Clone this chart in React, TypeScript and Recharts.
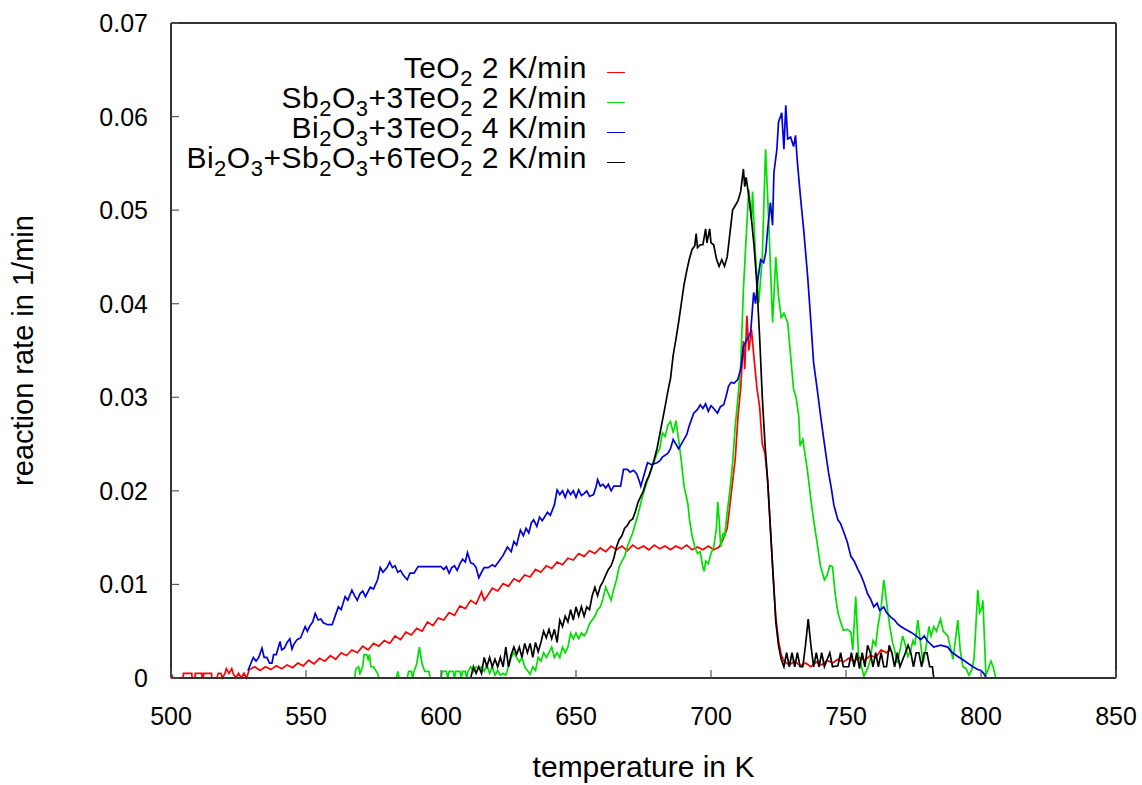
import { LineChart, Line, XAxis, YAxis, Legend } from 'recharts';

// [temperature in K, reaction rate in 1/min]
const teo2: [number, number][] = [
  [500, 0.0005], [500.8, 0], [504.5, 0], [504.6, 0.0005], [507.7, 0.0005], [507.8, 0], [508.9, 0],
  [509, 0.0005], [511.4, 0.0005], [511.5, 0], [512, 0], [512.1, 0.0005], [515, 0.0005], [515.1, 0],
  [517, 0], [517.5, 0.0005], [518.5, 0.0005], [519, 0], [520, 0.0005], [520.5, 0.001], [521.5, 0.0005],
  [522.5, 0.001], [523, 0.0005], [524, 0], [525, 0.0005], [526, 0], [527, 0.0005], [528, 0],
  [529, 0.0009], [531, 0.0012], [533, 0.0008], [535, 0.0012], [537, 0.0009], [539, 0.0013], [541, 0.001],
  [543, 0.0014], [545, 0.0011], [547, 0.0016], [549, 0.0013], [551, 0.0019], [553, 0.0015], [555, 0.0021],
  [557, 0.0018], [559, 0.0024], [561, 0.002], [563, 0.0027], [565, 0.0024], [567, 0.003], [569, 0.0027],
  [571, 0.0034], [573, 0.003], [575, 0.0037], [577, 0.0034], [579, 0.004], [581, 0.0037], [583, 0.0045],
  [585, 0.0041], [587, 0.0049], [589, 0.0046], [591, 0.0053], [593, 0.005], [595, 0.006], [597, 0.0056],
  [599, 0.0064], [601, 0.0062], [603, 0.007], [605, 0.0067], [607, 0.0077], [609, 0.0074], [611, 0.0083],
  [613, 0.0079], [615, 0.0092], [616, 0.0083], [617, 0.0087], [619, 0.0096], [621, 0.0093], [623, 0.0101],
  [625, 0.0098], [627, 0.0106], [629, 0.0103], [631, 0.011], [633, 0.0108], [635, 0.0116], [637, 0.0113],
  [639, 0.012], [641, 0.0117], [643, 0.0124], [645, 0.0121], [647, 0.0128], [649, 0.0126], [651, 0.0133],
  [653, 0.013], [655, 0.0136], [657, 0.0133], [659, 0.0139], [661, 0.0135], [663, 0.0141], [665, 0.0137],
  [667, 0.0141], [669, 0.0136], [671, 0.0142], [673, 0.0138], [675, 0.0141], [677, 0.0137], [679, 0.0142],
  [681, 0.0138], [683, 0.0141], [685, 0.0137], [687, 0.0141], [689, 0.0138], [691, 0.0142], [693, 0.0137],
  [695, 0.014], [697, 0.0137], [699, 0.0141], [701, 0.0137], [703, 0.014], [704, 0.0145], [705, 0.0152],
  [706, 0.016], [707, 0.0185], [708, 0.021], [709, 0.0235], [710, 0.028], [711, 0.031], [712, 0.036],
  [712.5, 0.033], [713.3, 0.0387], [714, 0.035], [715, 0.0372], [716, 0.034], [717, 0.031], [718, 0.029],
  [719, 0.025], [720, 0.024], [721, 0.021], [722, 0.016], [723, 0.011], [724, 0.0065], [725, 0.004],
  [726, 0.0025], [727, 0.0018], [729, 0.0014], [731, 0.0018], [733, 0.0013], [735, 0.0016], [737, 0.0012],
  [739, 0.0017], [741, 0.0014], [743, 0.0019], [745, 0.0016], [747, 0.002], [749, 0.0017], [751, 0.0021],
  [753, 0.0018], [755, 0.0022], [757, 0.0019], [759, 0.0024], [761, 0.0022], [763, 0.003], [765, 0.0027],
  [766.5, 0.003],
];

const sb2o3: [number, number][] = [
  [568, 0], [568.5, 0.001], [569.5, 0.0012], [570, 0.0005], [571, 0.0012], [571.5, 0.0025], [572.5, 0.0025],
  [573, 0.002], [573.5, 0.0025], [574, 0.0012], [575, 0.0012], [576.5, 0.0005], [577, 0], [583.5, 0],
  [584, 0.0007], [584.5, 0], [587.5, 0], [588, 0.0007], [589, 0.0007], [589.5, 0], [590, 0.0007],
  [591, 0.0015], [592, 0.0033], [593, 0.0015], [594, 0.0007], [595.5, 0.0007], [596, 0], [600, 0],
  [600.5, 0.0007], [602, 0.0007], [602.5, 0], [603, 0.0007], [604.5, 0.0007], [605, 0], [605.5, 0.0007],
  [607, 0.0007], [607.5, 0], [608, 0.0007], [609, 0.0007], [609.5, 0], [610, 0.0007], [611, 0.0012],
  [612, 0.0007], [613, 0.0012], [614, 0.001], [615, 0.0012], [616, 0.0007], [617, 0.0014], [618, 0.0005],
  [619, 0.0012], [620, 0.0003], [621, 0.0008], [622, 0.0003], [623, 0.0005], [624, 0.0003], [625, 0.0012],
  [626, 0.0022], [627, 0.0027], [628, 0.0022], [629, 0.0017], [630, 0.0022], [631, 0.0012], [632, 0.0008],
  [633, 0.0004], [634, 0.0012], [635, 0.0008], [636, 0.0022], [637, 0.0018], [638, 0.0027], [639, 0.0022],
  [640, 0.0027], [641, 0.0033], [642, 0.0022], [643, 0.0027], [644, 0.0022], [645, 0.0033], [646, 0.0027],
  [647, 0.0033], [648, 0.0048], [649, 0.0042], [650, 0.0048], [651, 0.0042], [652, 0.0048], [653, 0.0045],
  [654, 0.005], [655, 0.0058], [656, 0.0062], [657, 0.0066], [658, 0.0073], [659, 0.0076], [660, 0.0085],
  [661, 0.0097], [662, 0.009], [663, 0.0083], [664, 0.0095], [665, 0.0105], [666, 0.0119], [667, 0.0125],
  [668, 0.013], [669, 0.014], [670, 0.0148], [671, 0.0155], [672, 0.0165], [673, 0.0175], [674, 0.0187],
  [675, 0.0198], [676, 0.0207], [677, 0.0215], [678, 0.0225], [679, 0.0232], [680, 0.024], [681, 0.0245],
  [682, 0.0262], [683, 0.0258], [684, 0.027], [685, 0.0274], [686, 0.0262], [687, 0.0275], [688, 0.0255],
  [689, 0.0232], [690, 0.0205], [691, 0.0192], [691.5, 0.0185], [692, 0.017], [693, 0.0152], [694, 0.014],
  [695, 0.0133], [696, 0.0135], [697, 0.0118], [697.5, 0.0114], [698, 0.0125], [699, 0.0122], [700, 0.0133],
  [701, 0.014], [702, 0.016], [702.5, 0.0188], [703, 0.017], [703.6, 0.014], [704.5, 0.0155], [705, 0.015],
  [706, 0.0177], [707, 0.02], [708, 0.023], [709, 0.027], [710, 0.03], [711, 0.0335], [712, 0.0415],
  [713, 0.047], [714, 0.0522], [715, 0.049], [715.4, 0.052], [716.5, 0.045], [717.7, 0.0401], [719, 0.045],
  [720.2, 0.0565], [721.4, 0.0487], [722.8, 0.038], [724, 0.045], [725, 0.0408], [726, 0.0385], [727, 0.039],
  [728.4, 0.038], [729.5, 0.0344], [730.6, 0.0308], [731.5, 0.03], [732.5, 0.028], [733, 0.0248],
  [734, 0.0255], [735.8, 0.022], [737, 0.019], [738, 0.0169], [739, 0.015], [740.6, 0.0119], [742, 0.0105],
  [743, 0.011], [744, 0.012], [745, 0.0119], [746, 0.009], [747, 0.007], [748, 0.006], [749, 0.0051],
  [750.5, 0.0052], [751.8, 0.0049], [752.5, 0.003], [753.6, 0.0087], [754.7, 0.0021], [755.5, 0.0015],
  [756.6, 0.0002], [758, 0.001], [759, 0.002], [760, 0.004], [761, 0.0035], [761.8, 0.0055], [763, 0.0075],
  [764, 0.0105], [765.5, 0.007], [766.5, 0.005], [767.3, 0.0037], [768, 0.003], [769, 0.0016], [770, 0.003],
  [771, 0.0045], [772, 0.0035], [772.9, 0.0023], [774, 0.003], [774.8, 0.004], [775.5, 0.0035],
  [776.6, 0.0062], [777.5, 0.004], [778.5, 0.0016], [779.5, 0.003], [780.7, 0.0055], [781.5, 0.0045],
  [782.5, 0.0055], [783.5, 0.005], [785, 0.0063], [786, 0.005], [787.7, 0.0045], [788.5, 0.0035],
  [789.6, 0.002], [790.5, 0.004], [791.4, 0.0062], [792.3, 0.003], [793.3, 0.0012], [794.5, 0.001],
  [795.5, 0.0003], [796.5, 0.0008], [797.4, 0.002], [798, 0.005], [798.8, 0.0094], [799.5, 0.007],
  [800.3, 0.0075], [800.7, 0.0083], [801.3, 0.004], [801.8, 0.0003], [802.5, 0.0008], [803.7, 0.0018],
  [804.5, 0.0012], [805.5, 0],
];

const bi2o3: [number, number][] = [
  [528.5, 0.0008], [529.5, 0.0015], [530.5, 0.0022], [531.5, 0.0018], [532.5, 0.0022], [533.7, 0.0032],
  [534.5, 0.0022], [535.5, 0.0022], [536.5, 0.0016], [537.4, 0.0016], [538, 0.0025], [539, 0.0025],
  [540.4, 0.0039], [541, 0.003], [542, 0.0032], [543, 0.0038], [544, 0.0042], [544.8, 0.0031],
  [545.5, 0.0036], [546.7, 0.0041], [548, 0.0043], [549.7, 0.0055], [550.5, 0.005], [551.5, 0.0056],
  [552.5, 0.006], [553.4, 0.0069], [554.5, 0.0062], [555.5, 0.0063], [556.4, 0.0059], [558, 0.0057],
  [559.7, 0.0057], [561, 0.0068], [562, 0.0076], [563, 0.0073], [564.5, 0.0087], [565.5, 0.0083],
  [567, 0.0094], [568, 0.0088], [569, 0.0083], [570, 0.009], [571, 0.0093], [572, 0.0087], [573.8, 0.0097],
  [575, 0.0095], [576.5, 0.0105], [577.5, 0.0118], [578.5, 0.0113], [580, 0.0118], [581, 0.0124],
  [582, 0.0118], [583, 0.012], [584, 0.0113], [585, 0.0115], [586, 0.011], [587.5, 0.0105], [588.5, 0.0112],
  [590, 0.0112], [591.5, 0.0119], [595, 0.0119], [598, 0.0119], [600, 0.0119], [601, 0.0116], [602, 0.0119],
  [603, 0.0112], [604, 0.0118], [605, 0.012], [606, 0.0115], [607, 0.0122], [608, 0.0127], [609, 0.0124],
  [609.8, 0.0134], [611, 0.0123], [612, 0.0122], [613, 0.0118], [614, 0.0107], [615, 0.0113], [616, 0.0118],
  [617.5, 0.0118], [619, 0.0121], [620, 0.0119], [621, 0.0123], [622, 0.0127], [623, 0.0131], [624.6, 0.014],
  [626, 0.0135], [627, 0.0146], [628, 0.0142], [629.4, 0.0158], [630.5, 0.0152], [631.5, 0.016],
  [632.5, 0.0155], [633.5, 0.0166], [634.3, 0.0169], [635.5, 0.0162], [636.5, 0.0172], [637.5, 0.0168],
  [639.4, 0.0177], [640.5, 0.0174], [642, 0.0185], [643, 0.0201], [644, 0.0196], [645, 0.02], [646, 0.0193],
  [647, 0.0201], [648, 0.0196], [649, 0.02], [650, 0.0193], [651, 0.0201], [652, 0.0195], [653, 0.0197],
  [654, 0.02], [655, 0.0194], [656.5, 0.0196], [657.5, 0.0205], [658, 0.0212], [659, 0.0205], [660, 0.0207],
  [661, 0.0203], [662, 0.0207], [663, 0.02], [664, 0.0205], [665, 0.0205], [666.5, 0.0205], [667.6, 0.0223],
  [669, 0.0223], [670, 0.022], [671.3, 0.0222], [672.5, 0.0218], [673.5, 0.021], [674, 0.0205], [675, 0.0215],
  [676.5, 0.023], [678, 0.0228], [680, 0.023], [681, 0.0232], [682, 0.0236], [684, 0.024], [685, 0.0245],
  [686, 0.0255], [687, 0.025], [688, 0.0245], [689, 0.025], [690, 0.0255], [691, 0.026], [692, 0.027],
  [693.6, 0.0283], [695, 0.0287], [696, 0.0292], [697, 0.0288], [698, 0.0293], [699, 0.0285], [700, 0.0291],
  [701, 0.0288], [702.4, 0.0283], [703.5, 0.029], [704.7, 0.0292], [705.5, 0.03], [706.5, 0.0312],
  [707.5, 0.0316], [708.5, 0.0315], [709.9, 0.0319], [711, 0.033], [712, 0.0354], [713, 0.036], [714, 0.0365],
  [714.7, 0.037], [715.8, 0.0412], [716.5, 0.04], [717.3, 0.0425], [718.4, 0.0447], [719.5, 0.0444],
  [720.3, 0.0455], [721, 0.048], [722, 0.0508], [722.8, 0.0484], [723.3, 0.054], [724.4, 0.0565],
  [725, 0.0594], [726.2, 0.0604], [727, 0.0565], [727.7, 0.0612], [728.4, 0.0576], [729.5, 0.0578],
  [730.6, 0.0568], [731.3, 0.058], [732, 0.0551], [733.2, 0.0512], [734.3, 0.048], [735.8, 0.0429],
  [737, 0.038], [738, 0.0337], [739.5, 0.0305], [740.6, 0.028], [741.3, 0.0265], [742.5, 0.024],
  [743.5, 0.022], [744.5, 0.0204], [745.5, 0.0185], [747, 0.0169], [748, 0.0165], [749.3, 0.0155],
  [750.5, 0.0145], [751.8, 0.013], [753, 0.0125], [754.4, 0.0116], [755.5, 0.011], [756.6, 0.0102],
  [758, 0.009], [759, 0.0085], [760.3, 0.0076], [761.5, 0.008], [762.5, 0.0072], [764, 0.0076], [765, 0.007],
  [766.6, 0.0065], [768, 0.0062], [769, 0.0058], [770.3, 0.0055], [772, 0.0052], [774, 0.0049],
  [776, 0.0045], [777.7, 0.0041], [779, 0.0045], [780, 0.004], [782.5, 0.0033], [785, 0.0035],
  [787.7, 0.0033], [789, 0.0028], [791.4, 0.0023], [793, 0.002], [795, 0.0016], [797, 0.0012],
  [798.8, 0.0009], [800, 0.0008], [801, 0.0005], [802, 0],
];

const mixed: [number, number][] = [
  [611, 0], [612, 0.0012], [613, 0.0005], [614, 0.0012], [615, 0.0005], [616, 0.0022], [617, 0.0012],
  [618, 0.0022], [619, 0.0012], [620, 0.002], [621, 0.0012], [622, 0.0022], [623, 0.0012], [624, 0.0033],
  [625, 0.0012], [626, 0.0025], [627, 0.0033], [628, 0.0025], [629, 0.0033], [630, 0.0022], [631, 0.0037],
  [632, 0.0027], [633, 0.0037], [634, 0.0022], [635, 0.0038], [636, 0.0028], [637, 0.0038], [638, 0.005],
  [639, 0.0043], [640, 0.0052], [641, 0.0042], [642, 0.0052], [643, 0.0038], [644, 0.0062], [645, 0.0055],
  [646, 0.0066], [647, 0.006], [648, 0.0073], [649, 0.0062], [650, 0.0076], [651, 0.0066], [652, 0.0076],
  [653, 0.0066], [654, 0.0076], [655, 0.0073], [656, 0.0088], [657, 0.0097], [658, 0.0088], [659, 0.0098],
  [660, 0.0103], [661, 0.011], [662, 0.0116], [663, 0.012], [664, 0.0128], [665, 0.014], [666, 0.0148],
  [667, 0.0152], [668, 0.016], [669, 0.0163], [670, 0.0168], [671, 0.017], [672, 0.0178], [673, 0.0188],
  [674, 0.0194], [675, 0.02], [676, 0.021], [677, 0.0216], [678, 0.0224], [679, 0.0234], [680, 0.0245],
  [681, 0.026], [682, 0.0275], [683, 0.029], [684, 0.0306], [685, 0.032], [686, 0.0345], [687, 0.0362],
  [688, 0.038], [689, 0.04], [690, 0.042], [691, 0.0435], [692, 0.0448], [693, 0.0458], [694, 0.0462],
  [694.5, 0.0475], [695, 0.046], [696, 0.0463], [697, 0.0463], [698, 0.048], [698.5, 0.0465],
  [699.5, 0.048], [700, 0.0465], [701, 0.0463], [702, 0.0448], [703, 0.044], [704, 0.0447], [705, 0.044],
  [706, 0.045], [707, 0.0475], [708, 0.05], [709, 0.0505], [710, 0.051], [711, 0.052], [712, 0.0544],
  [712.5, 0.0525], [713, 0.0535], [714, 0.0515], [715, 0.049], [716, 0.046], [717, 0.042], [718, 0.0365],
  [719, 0.03], [720, 0.025], [721, 0.021], [722, 0.016], [723, 0.011], [724, 0.006], [725, 0.0035],
  [726, 0.002], [727, 0.0012], [728, 0.0027], [729, 0.0012], [730, 0.0027], [731, 0.0012], [732, 0.0027],
  [733, 0.0012], [734, 0.0012], [735, 0.0035], [736, 0.0063], [737, 0.0035], [738, 0.0012], [739, 0.0027],
  [740, 0.0012], [741, 0.0027], [742, 0.0012], [744, 0.0027], [745, 0.0012], [747, 0.0013], [748, 0.0027],
  [749, 0.0012], [751, 0.0012], [752, 0.0027], [753, 0.0012], [754, 0.0027], [755, 0.001], [756, 0.0027],
  [757, 0.0012], [758, 0.0035], [759, 0.0027], [760, 0.0012], [761, 0.0027], [762, 0.0012], [763, 0.0027],
  [764, 0.0012], [765, 0.0012], [766, 0.0035], [767, 0.0027], [768, 0.0012], [769, 0.0027], [770, 0.0012],
  [772, 0.0027], [773, 0.0035], [774, 0.0027], [775, 0.0012], [776, 0.0027], [777, 0.0027], [778, 0.0012],
  [779, 0.0027], [780, 0.0027], [781, 0.0012], [782, 0.0012], [782.5, 0],
];

const xTicks = [500, 550, 600, 650, 700, 750, 800, 850];
const yTicks = [0, 0.01, 0.02, 0.03, 0.04, 0.05, 0.06, 0.07];

const series = [
  { name: 'TeO2 2 K/min', points: teo2, color: '#ff0000' },
  { name: 'Sb2O3+3TeO2 2 K/min', points: sb2o3, color: '#00e000' },
  { name: 'Bi2O3+3TeO2 4 K/min', points: bi2o3, color: '#0000dd' },
  { name: 'Bi2O3+Sb2O3+6TeO2 2 K/min', points: mixed, color: '#000000' },
];

const FONT = '"Liberation Sans", Arial, Helvetica, sans-serif';
const TICK_LEN = 8;

// turns "Bi2O3" into Bi₂O₃ with gnuplot-style big subscripts
function Formula({ text }: { text: string }) {
  const parts = text.split(/(?<=[A-Za-z])(\d)/);
  return (
    <>
      {parts.map((p, i) =>
        i % 2 === 1 ? (
          <span key={i} style={{ fontSize: 22, position: 'relative', top: 8 }}>
            {p}
          </span>
        ) : (
          <span key={i}>{p}</span>
        )
      )}
    </>
  );
}

function KeyBox() {
  return (
    <div style={{ width: 625, fontFamily: FONT, fontSize: 30, letterSpacing: 0.5, color: '#000' }}>
      {series.map((s) => (
        <div
          key={s.name}
          style={{ height: 30, lineHeight: '30px', display: 'flex', justifyContent: 'flex-end', alignItems: 'center', whiteSpace: 'nowrap' }}
        >
          <span>
            <Formula text={s.name} />
          </span>
          <span style={{ display: 'inline-block', width: 18, marginLeft: 20, marginTop: 6, borderTop: `1.5px solid ${s.color}` }} />
        </div>
      ))}
    </div>
  );
}

const fmtY = (v: number) => (v === 0 ? '0' : v.toFixed(2));
const blank = () => '';

// gnuplot puts the tick marks inside the frame; label + inward tick drawn together
const LEFT_GAP = 23;
function LeftTick(props: any) {
  const { x, y, payload } = props;
  return (
    <g>
      <line x1={x + LEFT_GAP} x2={x + LEFT_GAP + TICK_LEN} y1={y} y2={y} stroke="#555" strokeWidth={1.2} />
      <text x={x} y={y} dy="0.36em" textAnchor="end" fill="#000" fontSize={25} fontFamily={FONT}>
        {fmtY(payload.value)}
      </text>
    </g>
  );
}

const BOTTOM_GAP = 29;
function BottomTick(props: any) {
  const { x, y, payload } = props;
  return (
    <g>
      <line x1={x} x2={x} y1={y - BOTTOM_GAP} y2={y - BOTTOM_GAP - TICK_LEN} stroke="#555" strokeWidth={1.2} />
      <text x={x} y={y} dy="0.72em" textAnchor="middle" fill="#000" fontSize={25} fontFamily={FONT}>
        {payload.value}
      </text>
    </g>
  );
}

export default function App() {
  return (
    <div style={{ position: 'absolute', left: 0, top: 0, width: 1142, height: 785, background: '#fff', fontFamily: FONT }}>
      <LineChart width={1142} height={785} margin={{ top: 23, right: 26, bottom: 0, left: 0 }}>
        <XAxis
          xAxisId="b"
          type="number"
          dataKey="t"
          domain={[500, 850]}
          ticks={xTicks}
          height={107}
          tickSize={TICK_LEN}
          tickMargin={BOTTOM_GAP - TICK_LEN}
          tickLine={false}
          tick={<BottomTick />}
          axisLine={{ stroke: '#333', strokeWidth: 2 }}
          label={{ value: 'temperature in K', position: 'insideBottom', offset: 8, fill: '#000', fontSize: 30, fontFamily: FONT }}
        />
        <XAxis
          xAxisId="t"
          orientation="top"
          type="number"
          dataKey="t"
          domain={[500, 850]}
          ticks={xTicks}
          height={1}
          mirror
          tickSize={TICK_LEN}
          tickFormatter={blank}
          tickLine={{ stroke: '#555', strokeWidth: 1.2 }}
          axisLine={{ stroke: '#333', strokeWidth: 2 }}
        />
        <YAxis
          yAxisId="l"
          type="number"
          domain={[0, 0.07]}
          ticks={yTicks}
          width={171}
          tickSize={TICK_LEN}
          tickMargin={LEFT_GAP - TICK_LEN}
          tickLine={false}
          tick={<LeftTick />}
          axisLine={{ stroke: '#333', strokeWidth: 2 }}
          label={{
            value: 'reaction rate in 1/min',
            angle: -90,
            position: 'insideLeft',
            offset: 23,
            fill: '#000',
            fontSize: 29,
            fontFamily: FONT,
            style: { textAnchor: 'middle' },
          }}
        />
        <YAxis
          yAxisId="r"
          orientation="right"
          type="number"
          domain={[0, 0.07]}
          ticks={yTicks}
          width={1}
          mirror
          tickSize={TICK_LEN}
          tickFormatter={blank}
          tickLine={{ stroke: '#555', strokeWidth: 1.2 }}
          axisLine={{ stroke: '#333', strokeWidth: 2 }}
        />
        <Legend
          layout="horizontal"
          verticalAlign="middle"
          align="center"
          wrapperStyle={{ top: 54, left: 0, width: 625 }}
          content={() => <KeyBox />}
        />
        {series.map((s) => (
          <Line
            key={s.name}
            xAxisId="b"
            yAxisId="l"
            data={s.points.map(([t, v]) => ({ t, v }))}
            dataKey="v"
            name={s.name}
            type="linear"
            stroke={s.color}
            strokeWidth={1.7}
            dot={false}
            activeDot={false}
            isAnimationActive={false}
          />
        ))}
      </LineChart>
    </div>
  );
}
